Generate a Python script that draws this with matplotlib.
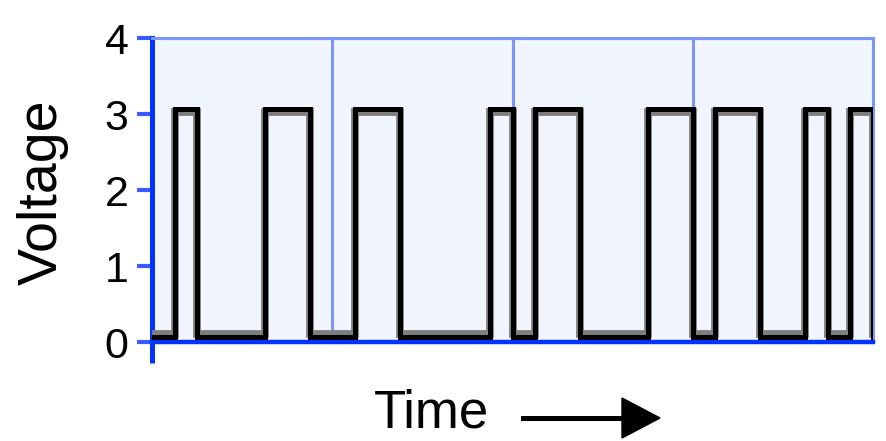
import numpy as np
import matplotlib.pyplot as plt
from matplotlib.patches import Polygon
from matplotlib.lines import Line2D

# Data
bits = [0, 1, 0, 0, 0, 1, 1, 0, 0, 1, 1, 0, 0, 0, 0, 1,
        0, 1, 1, 0, 0, 0, 1, 1, 0, 1, 1, 0, 0, 1, 0, 1]
bit_period = 0.125          # 8 bits per time division
black_low, black_high = 0.06, 3.07
gray_low, gray_high = 0.11, 3.03
y_ticks = [0, 1, 2, 3, 4]
grid_x = [1, 2, 3]

# Colours
BLUE = '#0033ff'
LIGHT_BLUE = '#7c97f7'
BG = '#f0f5fe'

W, H = 886, 441
fig = plt.figure(figsize=(W / 100, H / 100), dpi=100)
ax = fig.add_axes([152 / W, 1 - 342 / H, 721 / W, 304 / H])
ax.set_facecolor(BG)

t = np.arange(len(bits) + 1) * bit_period
b = np.array(bits + [0])
y_gray = np.where(b == 1, gray_high, gray_low)
y_black = np.where(b == 1, black_high, black_low)

ax.step(t, y_gray, where='post', color='#7e7e7e', lw=5.6, solid_joinstyle='miter', zorder=3)
ax.step(t, y_black, where='post', color='black', lw=3.6, solid_joinstyle='miter', zorder=4)

ax.set_xlim(0, 4)
ax.set_ylim(0, 4)

# vertical grid
ax.set_xticks(grid_x, minor=True)
ax.grid(True, which='minor', axis='x', color=LIGHT_BLUE, lw=2.2, zorder=1)
ax.tick_params(axis='x', which='minor', length=0)
ax.set_axisbelow(True)

# single tick at x=0 makes the left spine run below the axis
ax.set_xticks([0])
ax.set_xticklabels([''])
ax.tick_params(axis='x', which='major', direction='out', length=15, width=3.6, color=BLUE)

ax.set_yticks(y_ticks)
ax.set_yticklabels([str(v) for v in y_ticks], fontsize=31, family='Liberation Sans')
ax.tick_params(axis='y', direction='out', length=11, width=3, color='#3a5cff', pad=6)

ax.spines['left'].set_color(BLUE)
ax.spines['left'].set_linewidth(3.6)
ax.spines['bottom'].set_color(BLUE)
ax.spines['bottom'].set_linewidth(3.2)
ax.spines['top'].set_color(LIGHT_BLUE)
ax.spines['top'].set_linewidth(2.2)
ax.spines['right'].set_color(LIGHT_BLUE)
ax.spines['right'].set_linewidth(2.2)

# axis labels
fig.text(43 / W, 1 - 192 / H, 'Voltage', rotation=90, ha='center', va='center',
         fontsize=40, family='Liberation Sans')
fig.text(374 / W, 2 / H, 'Time', ha='left', va='bottom',
         fontsize=38, family='Liberation Sans')

# time arrow
fig.add_artist(Line2D([523 / W, 626 / W], [1 - 418 / H, 1 - 418 / H],
                      transform=fig.transFigure, color='black', lw=3.6))
fig.add_artist(Polygon([[622 / W, 1 - 398 / H], [660 / W, 1 - 418 / H], [622 / W, 1 - 438 / H]],
                       closed=True, transform=fig.transFigure, color='black'))

fig.savefig('out.png', dpi=100)
